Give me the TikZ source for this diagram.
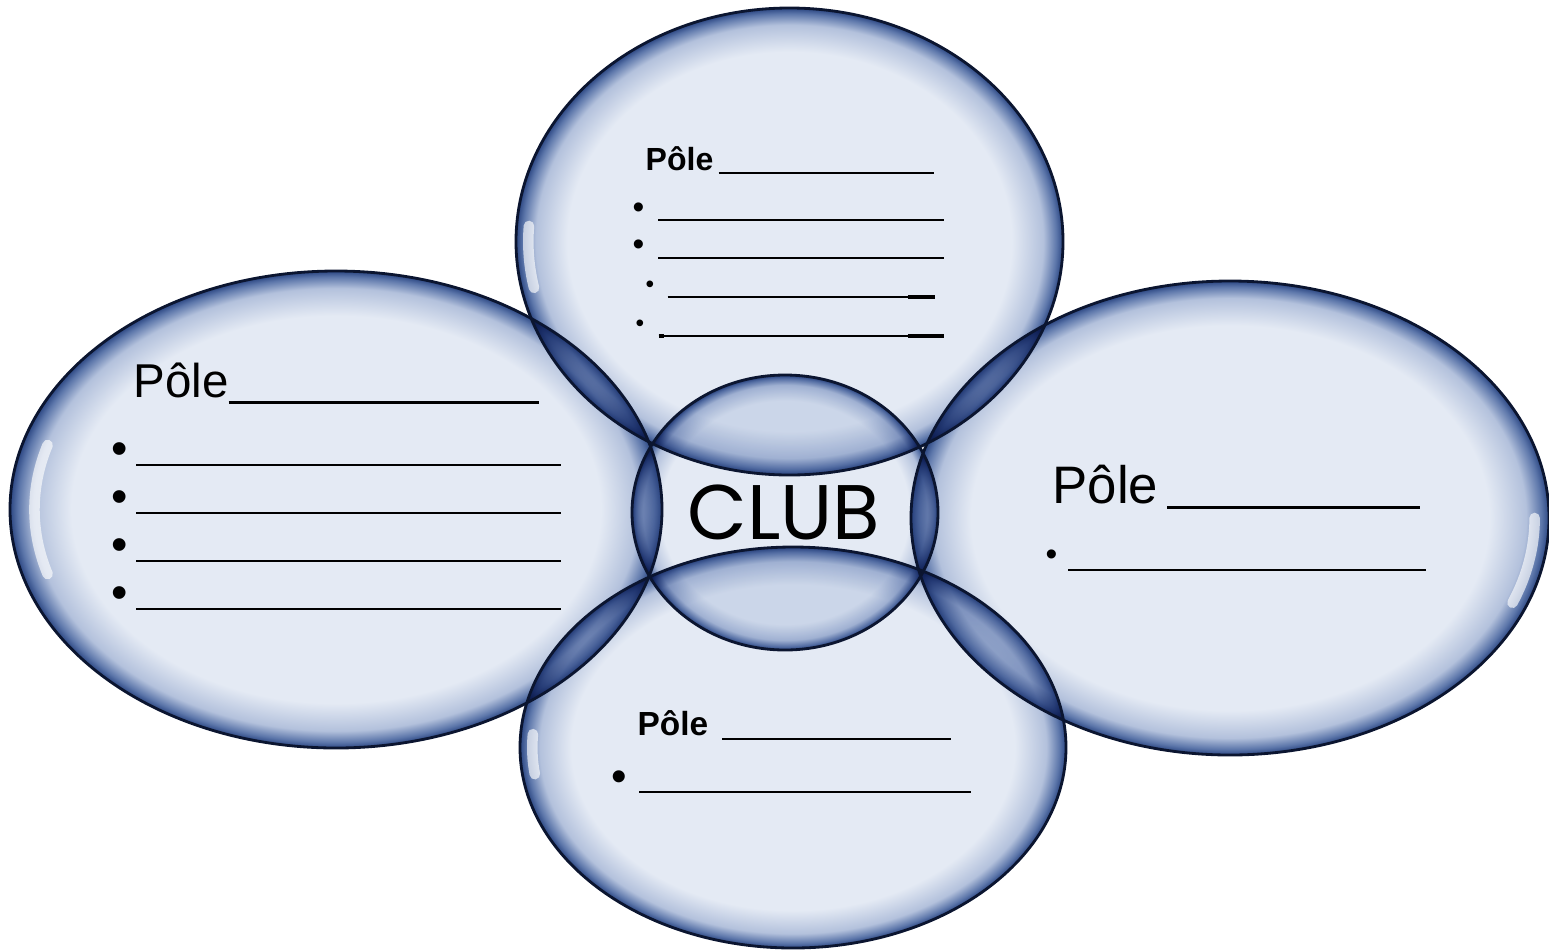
\documentclass[tikz,border=0pt]{standalone}
\usepackage{fontspec}
\setmainfont{Liberation Sans}
\newfontfamily\clubfont{Poppins}
\definecolor{bulleclair}{HTML}{E4EAF4}
\definecolor{bullepale}{HTML}{B3C1DC}
\definecolor{bullemoy}{HTML}{5C76AA}
\definecolor{bullebord}{HTML}{2B4682}
\definecolor{trait}{HTML}{0B1530}
\pgfdeclareradialshading{bulle}{\pgfpointorigin}{color(0bp)=(bulleclair); color(20.3bp)=(bulleclair); color(23.2bp)=(bullepale); color(24.4bp)=(bullemoy); color(25bp)=(bullebord); color(50bp)=(bullebord)}
\tikzset{
  contour/.style={draw=trait,line width=0.8pt},
  reflet/.style={white,line width=3pt,opacity=0.65},
  ligne/.style={anchor=base west,inner sep=0pt},
}
\begin{document}
\begin{tikzpicture}[x=0.01cm,y=0.01cm,line join=round,line cap=round]
\useasboundingbox (0,0) rectangle (1549,950);
\path
(336,440.5) coordinate (L)
(1230,432) coordinate (R)
(789.5,708.5) coordinate (T)
(793,202.5) coordinate (B)
(785,437.5) coordinate (C)
;
% bulles
\foreach \c/\rx/\ry in {L/326/238.5, R/319/237, T/273.5/233.5, B/273/200.5, C/153/137.5}
  \shade[shading=bulle,blend mode=multiply] (\c) ellipse [x radius=\rx, y radius=\ry];
\foreach \c/\rx/\ry/\a/\b/\k in {L/326/238.5/163/197/0.925, R/319/237/-22/0/0.955, T/273.5/233.5/176/192/0.955, B/273/200.5/176/188/0.955}
  \draw[reflet] (\c) ++(\a:{\k*\rx} and {\k*\ry}) arc[start angle=\a, end angle=\b, x radius={\k*\rx}, y radius={\k*\ry}];
\foreach \c/\rx/\ry in {L/326/238.5, R/319/237, T/273.5/233.5, B/273/200.5, C/153/137.5}
  \draw[contour] (\c) ellipse [x radius=\rx, y radius=\ry];

% pole du haut
\node[ligne,font=\bfseries\fontsize{9.1}{11}\selectfont] (titreH) at (645,780) {Pôle\,\rule[-1.15pt]{2.15cm}{0.6pt}};
\node[ligne,font=\fontsize{9.5}{11}\selectfont] (h1) at (632,732) {•\hspace{4pt}\rule[-0.87pt]{2.85cm}{0.6pt}};
\node[ligne,font=\fontsize{9.5}{11}\selectfont] (h2) at (632,695) {•\hspace{4pt}\rule[-1.15pt]{2.85cm}{0.6pt}};
\node[ligne,font=\fontsize{7}{9}\selectfont] (h3) at (645,658) {•\hspace{3.8pt}\rule[-1.7pt]{2.67cm}{0.6pt}\llap{\rule[-1.95pt]{0.27cm}{1.1pt}}};
\node[ligne,font=\fontsize{7}{9}\selectfont] (h4) at (635,619) {•\hspace{4.1pt}\rlap{\rule[-1.95pt]{0.05cm}{1.1pt}}\rule[-1.7pt]{2.85cm}{0.6pt}\llap{\rule[-1.95pt]{0.36cm}{1.1pt}}};

% pole de gauche
\node[ligne,font=\fontsize{13.5}{16}\selectfont] (titreG) at (133,553) {Pôle\rule[-1.85pt]{3.1cm}{0.85pt}};
\foreach \i/\y in {1/486, 2/438, 3/390, 4/342}
  \node[ligne,font=\fontsize{13.3}{16}\selectfont] (g\i) at (110.6,\y) {•\hspace{2.5pt}\rule[-0.65pt]{4.24cm}{0.7pt}};

% pole de droite
\node[ligne,font=\fontsize{15}{18}\selectfont] (titreD) at (1052,447) {Pôle\,\rule[-1.57pt]{2.53cm}{0.85pt}};
\node[ligne,font=\fontsize{9.5}{11}\selectfont] (d1) at (1045,385) {•\hspace{3.1pt}\rule[-1.7pt]{3.57cm}{0.6pt}};

% pole du bas
\node[ligne,font=\bfseries\fontsize{9.5}{11}\selectfont] (titreB) at (637,215) {Pôle\hspace{4pt}\rule[-1.44pt]{2.29cm}{0.6pt}};
\node[ligne,font=\fontsize{12.6}{15}\selectfont] (b1) at (611,159) {•\hspace{3.4pt}\rule[-0.6pt]{3.32cm}{0.6pt}};

% centre
\node[font=\clubfont\fontsize{22}{26}\selectfont] (club) at (784,437.5) {CLUB};
\end{tikzpicture}
\end{document}
